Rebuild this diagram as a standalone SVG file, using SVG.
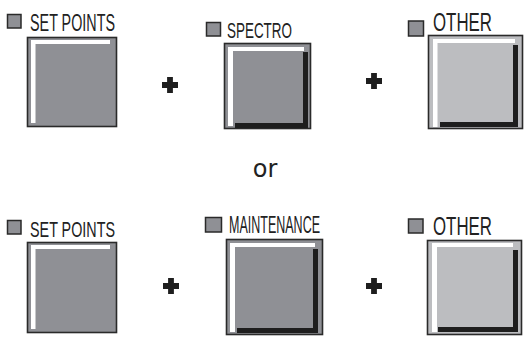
<svg xmlns="http://www.w3.org/2000/svg" width="525" height="338" viewBox="0 0 525 338">
<style>
.ind{fill:#8f9095;stroke:#2a2a2a;stroke-width:1.5}
.btn{fill:#8f9095;stroke:#2a2a2a;stroke-width:1.6}
.btnl{fill:#bcbdc0;stroke:#2a2a2a;stroke-width:1.6}
.hi{fill:#ffffff}
.sh{fill:#1e1e1e}
.lbl{font-family:"Liberation Sans",Arial,sans-serif;fill:#222}
.thin{font-family:"Liberation Sans",Arial,sans-serif;fill:#222;font-weight:300}
.plus{fill:#1e1e1e}
.or{font-family:"DejaVu Sans",sans-serif;font-size:24px;fill:#222}
</style>
<defs>
<path id="plus" class="plus" d="M-2.9,-8h5.8v5.1h5.1v5.8h-5.1v5.1h-5.8v-5.1h-5.1v-5.8h5.1z"/>
</defs>
<g id="setpoints1">
<rect class="ind" x="7.5" y="14.5" width="13.5" height="13.5"/>
<text class="lbl" x="30" y="31" font-size="23" textLength="85" lengthAdjust="spacingAndGlyphs">SET POINTS</text>
<rect class="btn" x="27.5" y="37.5" width="89" height="89"/>
<rect class="hi" x="31" y="40" width="4.5" height="83"/>
<rect class="hi" x="31" y="40" width="79" height="4"/>
</g>
<g id="spectro">
<rect class="ind" x="206.5" y="22.5" width="14" height="13.5"/>
<text class="lbl" x="227" y="38" font-size="22" textLength="65" lengthAdjust="spacingAndGlyphs">SPECTRO</text>
<rect class="btn" x="224.5" y="43.5" width="86" height="85"/>
<rect class="hi" x="228" y="47" width="5" height="79"/>
<rect class="hi" x="228" y="47" width="76" height="4"/>
<rect class="sh" x="303" y="52" width="5" height="76"/>
<rect class="sh" x="235" y="123" width="73" height="5"/>
</g>
<g id="other1">
<rect class="ind" x="408.5" y="21" width="15" height="15"/>
<text class="thin" x="433" y="31" font-size="25" textLength="59" lengthAdjust="spacingAndGlyphs">OTHER</text>
<rect class="btnl" x="428.5" y="35.5" width="94" height="93"/>
<rect class="hi" x="433" y="39" width="4.5" height="88"/>
<rect class="hi" x="433" y="39" width="82" height="4"/>
<rect class="sh" x="513" y="45" width="5" height="82"/>
<rect class="sh" x="440" y="122" width="78" height="5"/>
</g>
<g id="setpoints2">
<rect class="ind" x="7.5" y="220.5" width="13.5" height="13.5"/>
<text class="lbl" x="30" y="237" font-size="22" textLength="85" lengthAdjust="spacingAndGlyphs">SET POINTS</text>
<rect class="btn" x="27.5" y="242.5" width="89" height="90"/>
<rect class="hi" x="31" y="245" width="4.5" height="84"/>
<rect class="hi" x="31" y="245" width="79" height="4"/>
</g>
<g id="maintenance">
<rect class="ind" x="205.5" y="217.5" width="16" height="14.5"/>
<text class="thin" x="229" y="233" font-size="24" textLength="91" lengthAdjust="spacingAndGlyphs">MAINTENANCE</text>
<rect class="btn" x="226.5" y="239.5" width="96" height="95"/>
<rect class="hi" x="230" y="243" width="5" height="89"/>
<rect class="hi" x="230" y="243" width="85" height="4"/>
<rect class="sh" x="313" y="249" width="5" height="84"/>
<rect class="sh" x="237" y="328" width="81" height="5"/>
</g>
<g id="other2">
<rect class="ind" x="408.5" y="219" width="14.5" height="14"/>
<text class="thin" x="433" y="235" font-size="25" textLength="59" lengthAdjust="spacingAndGlyphs">OTHER</text>
<rect class="btnl" x="427.5" y="240.5" width="94" height="94"/>
<rect class="hi" x="432" y="243" width="5" height="89"/>
<rect class="hi" x="432" y="243" width="81" height="4"/>
<rect class="sh" x="513" y="250" width="5" height="82"/>
<rect class="sh" x="438" y="327" width="80" height="5"/>
</g>
<g id="connectors">
<use href="#plus" x="170" y="85"/>
<use href="#plus" x="374" y="81"/>
<use href="#plus" x="171" y="286"/>
<use href="#plus" x="374" y="286"/>
<text class="or" x="265" y="177" text-anchor="middle">or</text>
</g>
</svg>
